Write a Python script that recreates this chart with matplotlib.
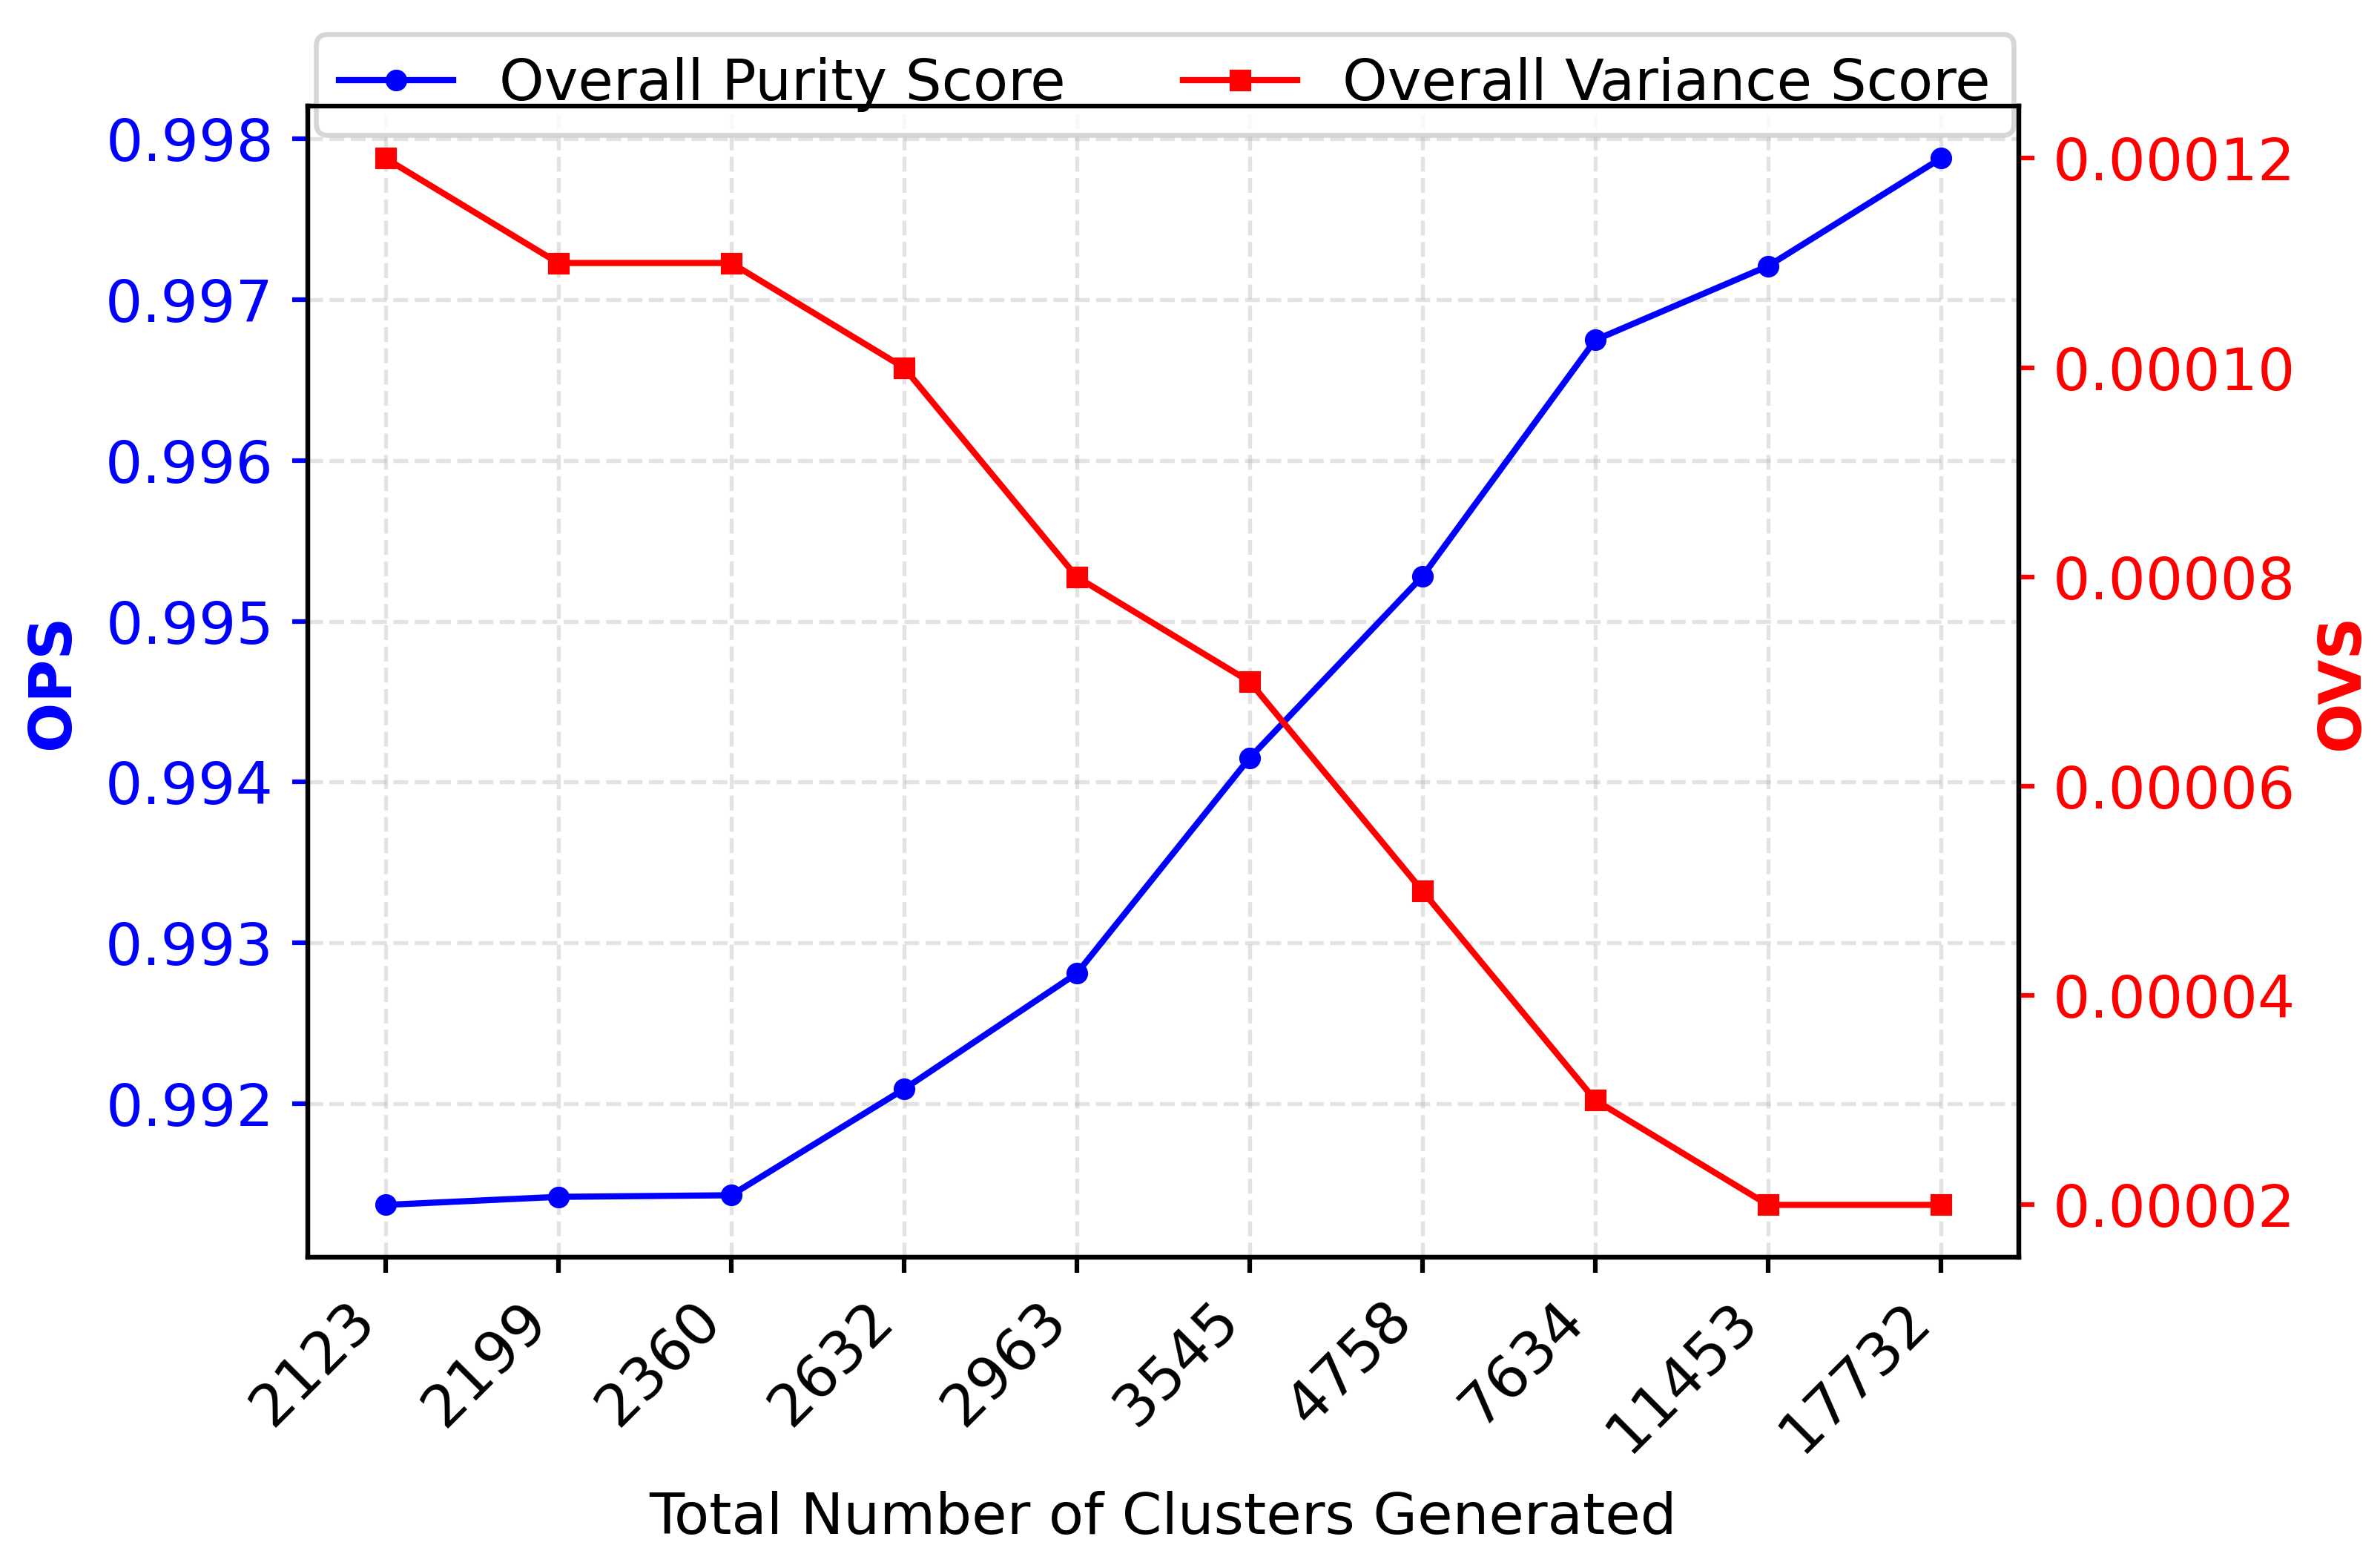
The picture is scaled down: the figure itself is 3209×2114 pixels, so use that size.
import matplotlib
matplotlib.use("Agg")
import matplotlib.pyplot as plt

# clusters generated (x axis categories)
clusters = ["2123", "2199", "2360", "2632", "2963", "3545", "4758", "7634", "11453", "17732"]

# Overall Purity Score
ops = [0.99137, 0.99142, 0.99143, 0.99209, 0.99281, 0.99415, 0.99528, 0.99675, 0.99721, 0.99788]

# Overall Variance Score
ovs = [0.00012, 0.00011, 0.00011, 0.00010, 0.00008, 0.00007, 0.00005, 0.00003, 0.00002, 0.00002]

fs = 19
lfs = 18.5

fig, ax1 = plt.subplots(figsize=(3209 / 300, 2114 / 300), dpi=300)
fig.subplots_adjust(left=0.1293, right=0.8482, top=0.9324, bottom=0.1982)

l1, = ax1.plot(clusters, ops, color="blue", marker="o", linewidth=2, markersize=6,
               label="Overall Purity Score")
ax1.set_xlabel("Total Number of Clusters Generated", fontsize=lfs, labelpad=9)
ax1.set_ylabel("OPS", color="blue", fontsize=fs, fontweight="bold", labelpad=8)
ax1.tick_params(axis="y", colors="blue", labelsize=fs, length=5, width=1.5, pad=6)
ax1.tick_params(axis="x", labelsize=fs, length=5, width=1.5, pad=6)
plt.setp(ax1.get_xticklabels(), rotation=45, ha="right")
ax1.grid(True, linestyle="--", linewidth=1.3, alpha=0.35)

ax2 = ax1.twinx()
l2, = ax2.plot(clusters, ovs, color="red", marker="s", linewidth=2, markersize=6,
               label="Overall Variance Score")
ax2.set_ylabel("OVS", color="red", fontsize=fs, fontweight="bold", labelpad=6)
ax2.tick_params(axis="y", colors="red", labelsize=fs, length=5, width=1.5, pad=6)

for ax in (ax1, ax2):
    for sp in ax.spines.values():
        sp.set_linewidth(1.5)

leg = ax1.legend(handles=[l1, l2], loc="lower left", bbox_to_anchor=(0.005, 0.975, 0.992, 0.1),
                 ncol=2, mode="expand", borderaxespad=0, fontsize=lfs)
leg.get_frame().set_linewidth(1.6)

fig.savefig("out.png", dpi=300)
